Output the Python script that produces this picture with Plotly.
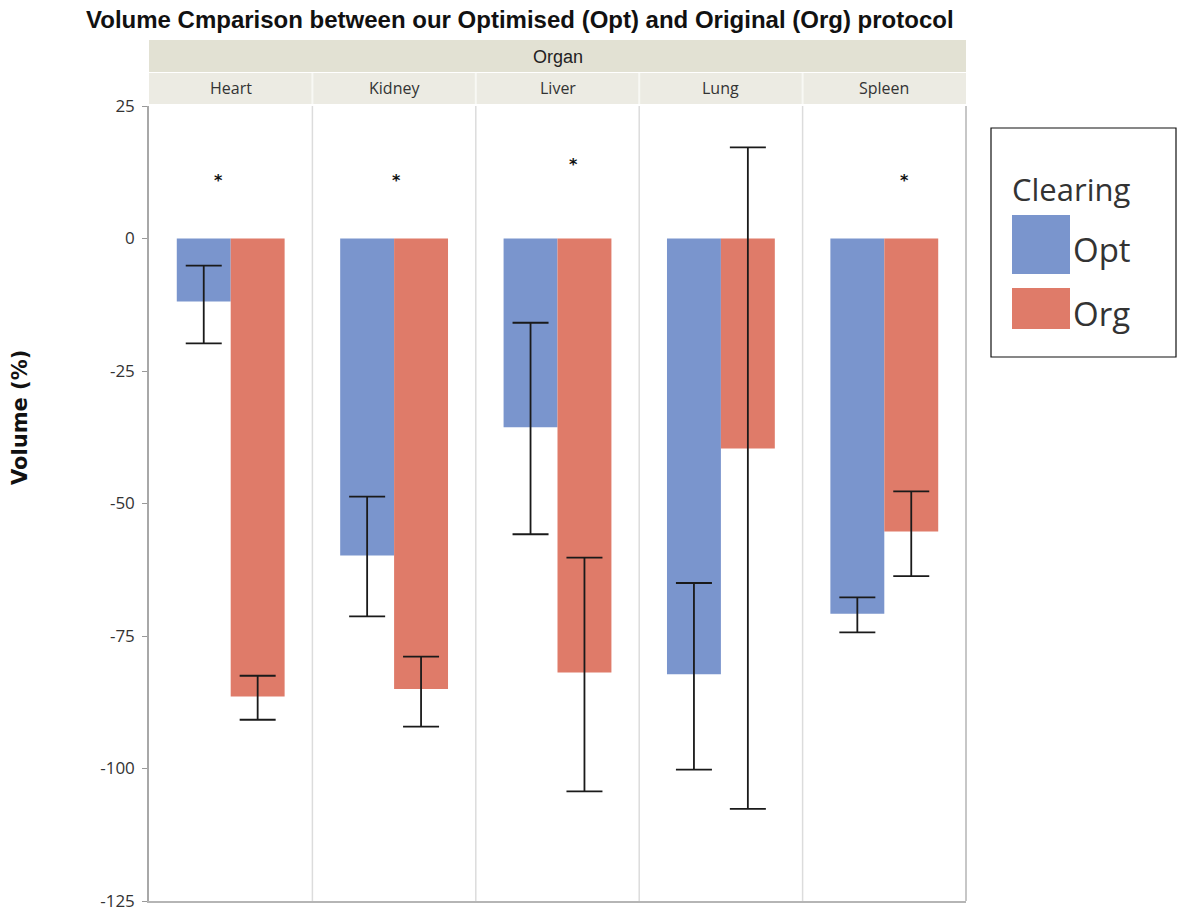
import plotly.graph_objects as go

# ---- data ---------------------------------------------------------------
organs = ["Heart", "Kidney", "Liver", "Lung", "Spleen"]
clearing = ["Opt", "Org"]

opt_mean = [-11.9, -59.8, -35.6, -82.2, -70.8]
opt_upper = [-5.1, -48.7, -15.9, -65.0, -67.7]
opt_lower = [-19.8, -71.3, -55.8, -100.2, -74.3]

org_mean = [-86.4, -85.0, -81.9, -39.6, -55.3]
org_upper = [-82.5, -78.9, -60.2, 17.2, -47.7]
org_lower = [-90.8, -92.1, -104.3, -107.6, -63.7]

# significance markers: organ, height (y), horizontal nudge in px
star_organs = ["Heart", "Kidney", "Liver", "Spleen"]
star_y = [11, 11, 14, 11]
star_shift = [-12, 2, 16, 20]

y_ticks = [25, 0, -25, -50, -75, -100, -125]

# ---- styling ------------------------------------------------------------
W, H = 1178, 913
L, R, T, B = 149, 966, 106, 901          # plot area in px
colors = {"Opt": "#7a95cd", "Org": "#df7b69"}
TICK_FONT = "Open Sans, Segoe UI, sans-serif"
NARROW = "Liberation Sans Narrow, Arial Narrow, sans-serif"


def px_x(p):
    return (p - L) / (R - L)


def px_y(p):
    return (B - p) / (B - T)


fig = go.Figure()

series = {
    "Opt": (opt_mean, opt_upper, opt_lower),
    "Org": (org_mean, org_upper, org_lower),
}
for name in clearing:
    mean, up, lo = series[name]
    fig.add_trace(go.Bar(
        name=name,
        x=organs,
        y=mean,
        marker=dict(color=colors[name], line=dict(width=0)),
        error_y=dict(
            type="data",
            symmetric=False,
            array=[u - m for u, m in zip(up, mean)],
            arrayminus=[m - l for m, l in zip(mean, lo)],
            color="#1a1a1a",
            thickness=1.8,
            width=18,
        ),
        showlegend=False,
    ))

shapes = []
annotations = []

# panel dividers
for i in range(len(organs) - 1):
    shapes.append(dict(type="line", xref="x", yref="paper",
                       x0=i + 0.5, x1=i + 0.5, y0=0, y1=1,
                       line=dict(color="#dcdcdc", width=1.5)))
# right frame
shapes.append(dict(type="line", xref="paper", yref="paper", x0=1, x1=1,
                   y0=0, y1=1, line=dict(color="#b5b5b5", width=1.5)))

# facet header bands
shapes.append(dict(type="rect", xref="paper", yref="paper",
                   x0=0, x1=1, y0=px_y(72), y1=px_y(40),
                   fillcolor="#e2e1d3", line=dict(width=0), layer="below"))
shapes.append(dict(type="rect", xref="paper", yref="paper",
                   x0=0, x1=1, y0=px_y(104), y1=px_y(73),
                   fillcolor="#ecebe3", line=dict(width=0), layer="below"))
for i in range(len(organs) - 1):
    shapes.append(dict(type="line", xref="x", yref="paper",
                       x0=i + 0.5, x1=i + 0.5, y0=px_y(104), y1=px_y(73),
                       line=dict(color="#f8f8f4", width=2)))

annotations.append(dict(text="Organ", xref="paper", yref="paper",
                        x=0.5, y=px_y(57), showarrow=False,
                        font=dict(family=NARROW, size=18, color="#222"),
                        yanchor="middle"))
for org in organs:
    annotations.append(dict(text=org, xref="x", yref="paper",
                            x=org, y=px_y(88), showarrow=False,
                            font=dict(family=TICK_FONT, size=16, color="#333"),
                            yanchor="middle"))

# significance stars
for org, yv, sh in zip(star_organs, star_y, star_shift):
    annotations.append(dict(text="<b>*</b>", xref="x", yref="y", x=org, y=yv,
                            xshift=sh, showarrow=False,
                            font=dict(family="DejaVu Sans", size=16,
                                      color="#111"),
                            yanchor="middle"))

# title
annotations.append(dict(
    text="<b>Volume Cmparison between our Optimised (Opt) and Original (Org) protocol</b>",
    xref="paper", yref="paper", x=px_x(520), y=px_y(19),
    xanchor="center", yanchor="middle", showarrow=False,
    font=dict(family=NARROW, size=24, color="#111")))

# legend box
shapes.append(dict(type="rect", xref="paper", yref="paper",
                   x0=px_x(991), x1=px_x(1176), y0=px_y(357), y1=px_y(128),
                   line=dict(color="#111", width=1.2), fillcolor="white"))
annotations.append(dict(text="Clearing", xref="paper", yref="paper",
                        x=px_x(1010), y=px_y(189), xanchor="left",
                        yanchor="middle", showarrow=False,
                        font=dict(family="Open Sans, sans-serif", size=31,
                                  color="#333")))
swatch_rows = [(215, 274), (288, 329)]
for name, (top, bot) in zip(clearing, swatch_rows):
    shapes.append(dict(type="rect", xref="paper", yref="paper",
                       x0=px_x(1012), x1=px_x(1070), y0=px_y(bot), y1=px_y(top),
                       fillcolor=colors[name], line=dict(width=0)))
    annotations.append(dict(text=name, xref="paper", yref="paper",
                            x=px_x(1071), y=px_y((top + bot) / 2 + 5),
                            xanchor="left", yanchor="middle", showarrow=False,
                            font=dict(family="Open Sans, sans-serif", size=33,
                                      color="#333")))

# y-axis title
annotations.append(dict(text="<b>Volume (%)</b>", xref="paper", yref="paper",
                        x=px_x(20), y=px_y(418), textangle=-90,
                        xanchor="center", yanchor="middle", showarrow=False,
                        font=dict(family="DejaVu Sans, Verdana, sans-serif",
                                  size=21, color="#111")))

fig.update_layout(
    width=W, height=H,
    margin=dict(l=L, r=W - R, t=T, b=H - B, pad=0, autoexpand=False),
    paper_bgcolor="white", plot_bgcolor="white",
    barmode="group", bargap=0.34, bargroupgap=0,
    shapes=shapes, annotations=annotations,
    showlegend=False,
)
fig.update_xaxes(
    type="category", range=[-0.5, len(organs) - 0.5], automargin=False,
    showticklabels=False, ticks="", showgrid=False, zeroline=False,
    showline=True, linecolor="#b5b5b5", linewidth=1.5,
)
fig.update_yaxes(
    range=[-125, 25], tickvals=y_ticks, ticktext=[str(v) for v in y_ticks],
    automargin=False, ticklabelstandoff=4,
    ticks="outside", ticklen=5, tickcolor="#999", tickwidth=1,
    tickfont=dict(family=TICK_FONT, size=17, color="#333"),
    showgrid=False, zeroline=False,
    showline=True, linecolor="#a8a8a8", linewidth=1.5,
)

fig.write_html("out.html")
